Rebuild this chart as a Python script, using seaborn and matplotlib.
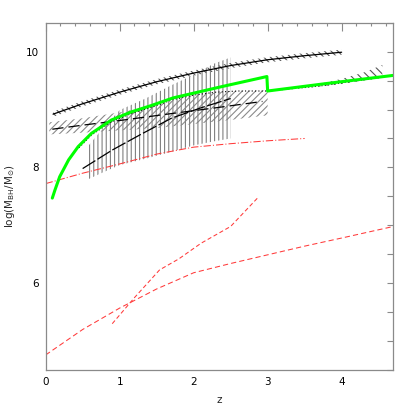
import matplotlib
matplotlib.use("Agg")
import matplotlib.pyplot as plt
import seaborn as sns
import numpy as np
from matplotlib.ticker import MultipleLocator

# ---- data ----
top_z = [0.1, 0.5, 1.0, 1.5, 2.0, 2.5, 3.0, 3.5, 4.0]
top_m = [8.92, 9.10, 9.30, 9.48, 9.63, 9.76, 9.86, 9.93, 9.99]
top_err = 0.045

green_z = [0.09, 0.126, 0.19, 0.31, 0.44, 0.62, 0.89, 1.16, 1.43, 1.72, 2.36, 2.99, 3.0, 3.8, 4.7]
green_m = [7.47, 7.61, 7.84, 8.13, 8.36, 8.59, 8.82, 8.96, 9.07, 9.20, 9.39, 9.57, 9.32, 9.45, 9.59]

dot_z = [0.45, 0.62, 0.89, 1.16, 1.43, 1.72, 2.0, 2.3, 2.6, 3.0, 3.5, 3.8, 4.0, 4.55]
dot_m = [8.34, 8.56, 8.79, 8.93, 9.04, 9.17, 9.25, 9.30, 9.32, 9.32, 9.38, 9.42, 9.46, 9.56]

diag_z = [0.05, 0.5, 1.0, 1.5, 2.0, 2.5, 3.0]
diag_lo = [8.57, 8.60, 8.64, 8.68, 8.75, 8.82, 8.90]
diag_hi = [8.78, 8.85, 8.95, 9.08, 9.25, 9.32, 9.33]

dash1_z = [0.09, 0.5, 1.0, 1.7, 2.3, 2.93]
dash1_m = [8.66, 8.73, 8.81, 8.93, 9.03, 9.14]

dash2_z = [0.5, 0.9, 1.3, 1.7, 2.1, 2.5]
dash2_m = [7.98, 8.30, 8.58, 8.85, 9.03, 9.19]

vert_z = [0.55, 0.75, 1.0, 1.35, 1.7, 2.0, 2.27, 2.5]
vert_lo = [7.78, 7.90, 8.04, 8.15, 8.27, 8.38, 8.45, 8.50]
vert_hi = [8.33, 8.64, 8.99, 9.19, 9.42, 9.60, 9.79, 9.90]

right_z = [3.5, 3.8, 4.0, 4.3, 4.55]
right_lo = [9.37, 9.41, 9.44, 9.50, 9.55]
right_hi = [9.39, 9.47, 9.53, 9.64, 9.77]

dashdot_z = [0.0, 0.5, 1.0, 1.5, 2.0, 2.5, 3.0, 3.5]
dashdot_m = [7.72, 7.90, 8.06, 8.23, 8.35, 8.41, 8.46, 8.50]

reddash_z = [0.0, 0.5, 1.0, 1.5, 2.0, 2.5, 3.0, 3.5, 4.0, 4.7]
reddash_m = [4.76, 5.20, 5.57, 5.90, 6.18, 6.34, 6.49, 6.64, 6.78, 6.98]

steep_z = [0.9, 1.2, 1.54, 1.8, 2.1, 2.5, 2.87]
steep_m = [5.30, 5.75, 6.23, 6.42, 6.69, 6.98, 7.48]

# ---- style ----
sns.set_style("white")
plt.rcParams["font.family"] = ["DejaVu Sans"]
plt.rcParams["mathtext.fontset"] = "dejavusans"
plt.rcParams["hatch.linewidth"] = 0.8

fig = plt.figure(figsize=(4.15, 4.15), dpi=100)
ax = fig.add_axes([0.110, 0.1084, 0.838, 0.8369])

gray = "#8a8a8a"

# hatched bands
ax.fill_between(top_z, np.array(top_m) - top_err, np.array(top_m) + top_err,
                facecolor="none", edgecolor="#555555", linewidth=0, hatch="\\\\\\\\\\")
ax.fill_between(diag_z, diag_lo, diag_hi, facecolor="none", edgecolor=gray,
                linewidth=0, hatch="/////")
ax.fill_between(vert_z, vert_lo, vert_hi, facecolor="none", edgecolor="#808080",
                linewidth=0, hatch="||||")
ax.fill_between(right_z, right_lo, right_hi, facecolor="none", edgecolor="#555555",
                linewidth=0, hatch="\\\\\\\\")

# lines
def line(x, y, **kw):
    sns.lineplot(x=x, y=y, ax=ax, estimator=None, sort=False, **kw)

line(top_z, top_m, color="black", linewidth=0.9)
line(dash1_z, dash1_m, color="black", linewidth=0.9, linestyle=(0, (9, 4)))
line(dash2_z, dash2_m, color="black", linewidth=0.9, linestyle=(0, (12, 2)))
line(dot_z, dot_m, color="black", linewidth=0.8, linestyle=(0, (1, 2)))
line(dashdot_z, dashdot_m, color="#ff3a3a", linewidth=0.75, linestyle=(0, (7, 2, 1, 2)))
line(reddash_z, reddash_m, color="#ff3a3a", linewidth=0.75, linestyle=(0, (5, 3)))
line(steep_z, steep_m, color="#ff3a3a", linewidth=0.75, linestyle=(0, (4, 2.5)))
line(green_z, green_m, color="#00ff00", linewidth=2.2)

# axes
ax.set_xlim(0, 4.7)
ax.set_ylim(4.5, 10.5)
ax.xaxis.set_major_locator(MultipleLocator(1))
ax.xaxis.set_minor_locator(MultipleLocator(0.2))
ax.yaxis.set_major_locator(MultipleLocator(2))
ax.yaxis.set_minor_locator(MultipleLocator(0.5))
ax.tick_params(which="both", direction="in", top=True, right=True, color=gray,
               labelsize=7.5, labelcolor="black", width=0.8)
ax.tick_params(axis="x", which="major", length=5.5, pad=5)
ax.tick_params(axis="x", which="minor", length=2.5)
ax.tick_params(axis="y", which="both", length=4.5, pad=5)
for s in ax.spines.values():
    s.set_color(gray)
    s.set_linewidth(0.9)

ax.set_xlabel("z", fontsize=7.5, labelpad=6)
ax.set_ylabel(r"log(M$_{\rm BH}$/M$_{\odot}$)", fontsize=7.5, labelpad=6)

fig.savefig("out.png", dpi=100)
